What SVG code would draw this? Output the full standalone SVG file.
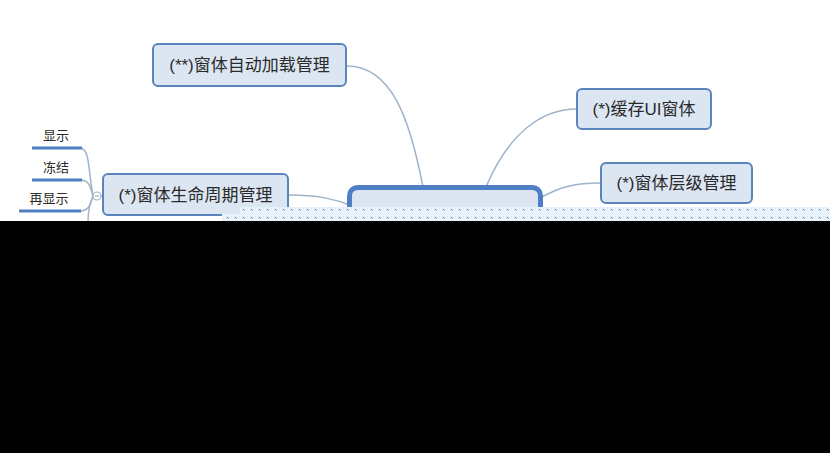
<svg xmlns="http://www.w3.org/2000/svg" width="830" height="453" viewBox="0 0 830 453">
<defs>
<style>
.box{fill:#dce6f3;stroke:#5b84bd;stroke-width:2}
.center{fill:#dce4f2;stroke:#4f80c6;stroke-width:5}
.t{font-family:"Liberation Sans","Noto Sans CJK SC",sans-serif;font-size:17px;fill:#2a2a2a;text-anchor:middle}
.s{font-family:"Liberation Sans","Noto Sans CJK SC",sans-serif;font-size:13px;fill:#2a2a2a;text-anchor:middle}
.c{fill:none;stroke:#9fb3cb;stroke-width:1.5}
.u{stroke:#4f7fbf;stroke-width:3}
</style>
<pattern id="dots" x="0" y="206" width="8" height="8" patternUnits="userSpaceOnUse">
<rect width="8" height="8" fill="#e6f3fd"/>
<rect x="3" y="3" width="1" height="1" fill="#4a5560"/>
<rect x="4" y="4" width="1" height="1" fill="#9aa4ae"/>
</pattern>
</defs>
<rect width="830" height="453" fill="#ffffff"/>
<g id="connectors">
<path class="c" d="M347,66 C392,66 410,120 423,187"/>
<path class="c" d="M486,187 C508,135 540,109 577,109"/>
<path class="c" d="M542,197 C560,187 575,183 601,183"/>
<path class="c" d="M288,195 C318,195 335,199 352,206"/>
<path class="c" d="M93,196 C88,170 90,148 80,148"/>
<path class="c" d="M93,196 C90,184 88,180 80,180"/>
<path class="c" d="M93,196 C90,206 88,211 80,211"/>
<path class="c" d="M93,196 C89,205 88,212 88,222"/>
<line class="c" x1="101" y1="196" x2="103" y2="196"/>
</g>
<g id="leaf-show"><line class="u" x1="32" y1="148" x2="82" y2="148"/><text class="s" x="56" y="140">显示</text></g>
<g id="leaf-freeze"><line class="u" x1="32" y1="180" x2="82" y2="180"/><text class="s" x="56" y="172">冻结</text></g>
<g id="leaf-reshow"><line class="u" x1="19" y1="211" x2="81" y2="211"/><text class="s" x="49" y="203">再显示</text></g>
<g id="collapse"><circle cx="97" cy="196" r="4" fill="#ffffff" stroke="#9fb3cb" stroke-width="1.2"/><line x1="95" y1="196" x2="99" y2="196" stroke="#8a9bb0" stroke-width="1"/></g>
<g id="node-autoload"><rect class="box" x="153" y="44" width="193" height="42" rx="5"/><text class="t" x="249.5" y="71">(**)窗体自动加载管理</text></g>
<g id="node-cache"><rect class="box" x="577" y="89" width="134" height="40" rx="5"/><text class="t" x="644" y="115">(*)缓存UI窗体</text></g>
<g id="node-layer"><rect class="box" x="601" y="163" width="151" height="40" rx="5"/><text class="t" x="676.5" y="189">(*)窗体层级管理</text></g>
<g id="node-lifecycle"><rect class="box" x="103" y="174" width="185" height="41" rx="5"/><text class="t" x="195.5" y="201">(*)窗体生命周期管理</text></g>
<g id="node-center"><rect class="center" x="349.5" y="187.5" width="191" height="80" rx="8"/></g>
<polygon points="240,207 830,207 830,221 222,221 222,214 240,214" fill="url(#dots)"/>
<rect x="0" y="221" width="830" height="232" fill="#000000"/>
</svg>
